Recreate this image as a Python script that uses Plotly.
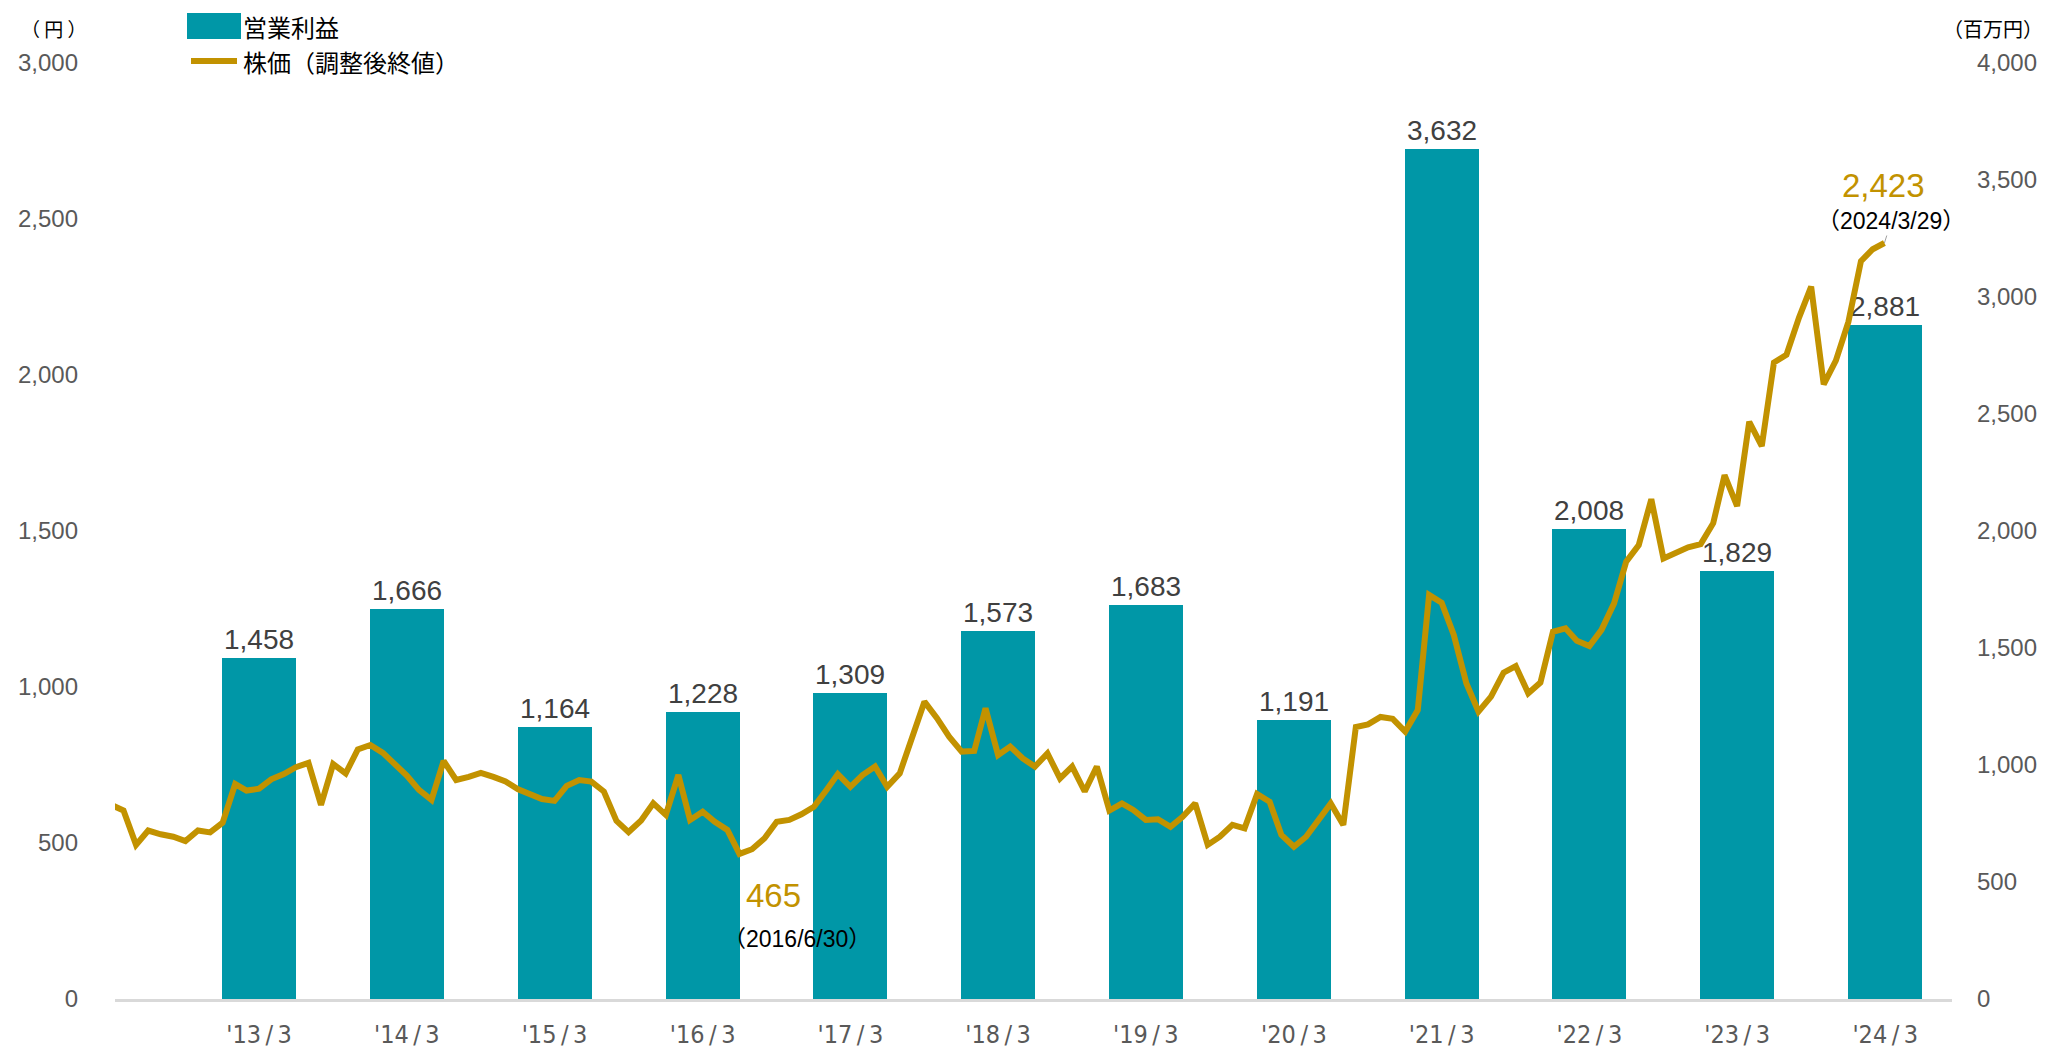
import calendar
import plotly.graph_objects as go

# ---------------- data ----------------
fiscal_labels = ["'13/3", "'14/3", "'15/3", "'16/3", "'17/3", "'18/3",
                 "'19/3", "'20/3", "'21/3", "'22/3", "'23/3", "'24/3"]
fiscal_dates = ["2013-03-31", "2014-03-31", "2015-03-31", "2016-03-31",
                "2017-03-31", "2018-03-31", "2019-03-31", "2020-03-31",
                "2021-03-31", "2022-03-31", "2023-03-31", "2024-03-31"]
operating_profit = [1458, 1666, 1164, 1228, 1309, 1573,
                    1683, 1191, 3632, 2008, 1829, 2881]   # 百万円

# monthly adjusted close (円), 2012/3 .. 2024/3
stock_price = [
    622, 604, 494, 540, 528, 520, 506, 540, 534, 565, 689, 668,
    674, 704, 721, 743, 757, 622, 753, 723, 800, 814, 789, 755,
    716, 670, 638, 763, 702, 712, 725, 712, 697, 672, 657, 641,
    635, 683, 702, 697, 665, 571, 535, 572, 627, 590, 718, 574,
    600, 568, 542, 465, 480, 515, 568, 574, 592, 616, 670, 721,
    680, 718, 745, 680, 723, 841, 953, 900, 841, 793, 795, 932,
    782, 809, 771, 745, 787, 707, 745, 665, 745, 604, 627, 606,
    574, 576, 552, 584, 627, 494, 520, 558, 547, 657, 632, 526,
    488, 520, 576, 627, 558, 872, 880, 904, 898, 857, 926, 1295,
    1270, 1167, 1012, 921, 969, 1046, 1067, 980, 1014, 1177, 1188, 1148,
    1131, 1183, 1268, 1402, 1455, 1602, 1412, 1429, 1448, 1458, 1525, 1679,
    1580, 1850, 1772, 2040, 2065, 2184, 2283, 1970, 2046, 2170, 2365, 2403,
    2423,
]
price_start_year, price_start_month = 2012, 3
last_price_date = "2024-03-29"
low_price_date = "2016-06-30"

# month-end dates for the price series
price_dates = []
yy, mm = price_start_year, price_start_month
for _ in stock_price:
    d = calendar.monthrange(yy, mm)[1]
    price_dates.append(f"{yy:04d}-{mm:02d}-{d:02d}")
    mm += 1
    if mm > 12:
        mm = 1
        yy += 1
price_dates[-1] = last_price_date

TEAL = "#0097A7"
GOLD = "#C29200"
NUM_FONT = "Liberation Sans, Arial, sans-serif"
JP_FONT = "Noto Sans CJK JP, sans-serif"
MIX_FONT = "Liberation Sans, Noto Sans CJK JP, sans-serif"
NARROW_FONT = "Liberation Sans Narrow, Arial Narrow, DejaVu Sans Condensed, sans-serif"

fig = go.Figure()

fig.add_trace(go.Bar(
    x=fiscal_dates, y=operating_profit, yaxis="y",
    name="営業利益",
    marker=dict(color=TEAL, line=dict(width=0)),
    width=182.9 * 86400000,
    text=[f"{v:,}" for v in operating_profit],
    textposition="outside",
    textfont=dict(family=NUM_FONT, size=28, color="#404040"),
    cliponaxis=False,
    showlegend=False,
))

fig.add_trace(go.Scatter(
    x=price_dates, y=stock_price, yaxis="y2",
    name="株価（調整後終値）",
    mode="lines",
    line=dict(color=GOLD, width=6),
    showlegend=False,
))

# geometry helpers (pixel -> paper)
L, R, T, B = 115, 96, 63, 51
W, H = 2048, 1050
PW, PH = W - L - R, H - T - B


def px(xp):
    return (xp - L) / PW


def py(yp):
    return (H - yp - B) / PH


low_idx = price_dates.index(low_price_date)
annotations = [
    dict(x=price_dates[-1], y=stock_price[-1], xref="x", yref="y2",
         text=f"{stock_price[-1]:,}", showarrow=False, yshift=58, xshift=-1,
         xanchor="center", yanchor="middle",
         font=dict(family=NUM_FONT, size=33, color=GOLD)),
    dict(x=price_dates[-1], y=stock_price[-1], xref="x", yref="y2",
         text="（2024/3/29）", showarrow=True, arrowhead=0, arrowwidth=1,
         arrowcolor="#A0A0A0", ax=7, ay=-22, standoff=0,
         font=dict(family=MIX_FONT, size=23, color="#000000")),
    dict(x=price_dates[low_idx], y=stock_price[low_idx], xref="x", yref="y2",
         text=f"{stock_price[low_idx]:,}", showarrow=False, xshift=34, yshift=-42,
         xanchor="center", yanchor="middle",
         font=dict(family=NUM_FONT, size=33, color=GOLD)),
    dict(x=price_dates[low_idx], y=stock_price[low_idx], xref="x", yref="y2",
         text="（2016/6/30）", showarrow=False, xshift=58, yshift=-85,
         xanchor="center", yanchor="middle",
         font=dict(family=MIX_FONT, size=23, color="#000000")),
    # axis unit titles
    dict(x=px(54), y=py(29), xref="paper", yref="paper", text="（ 円 ）",
         xanchor="center", yanchor="middle", showarrow=False,
         font=dict(family=JP_FONT, size=19, color="#000000")),
    dict(x=px(1993), y=py(29), xref="paper", yref="paper", text="（百万円）",
         xanchor="center", yanchor="middle", showarrow=False,
         font=dict(family=JP_FONT, size=20, color="#000000")),
    # legend texts
    dict(x=px(241), y=py(27), xref="paper", yref="paper", text="営業利益",
         xanchor="left", yanchor="middle", showarrow=False,
         font=dict(family=JP_FONT, size=24, color="#000000")),
    dict(x=px(241), y=py(61), xref="paper", yref="paper", text="株価（調整後終値）",
         xanchor="left", yanchor="middle", showarrow=False,
         font=dict(family=JP_FONT, size=24, color="#000000")),
]

shapes = [
    dict(type="rect", xref="paper", yref="paper",
         x0=px(187), x1=px(241), y0=py(39), y1=py(13),
         fillcolor=TEAL, line=dict(width=0)),
    dict(type="line", xref="paper", yref="paper",
         x0=px(191), x1=px(237), y0=py(61), y1=py(61),
         line=dict(color=GOLD, width=6)),
]

fig.update_layout(
    width=W, height=H,
    margin=dict(l=L, r=R, t=T, b=B, pad=0, autoexpand=False),
    paper_bgcolor="white", plot_bgcolor="white",
    bargap=0,
    showlegend=False,
    xaxis=dict(
        type="date",
        range=["2012-04-09", "2024-09-12"],
        tickmode="array", tickvals=fiscal_dates,
        ticktext=[s.replace("/", "\u2009/\u2009") for s in fiscal_labels],
        tickfont=dict(family=NARROW_FONT, size=25, color="#595959"),
        showgrid=False, zeroline=False,
        showline=True, linecolor="#D9D9D9", linewidth=3,
        ticks="", ticklabelstandoff=11, automargin=False,
    ),
    yaxis=dict(
        side="right", range=[0, 4000], tickmode="array",
        tickvals=[0, 500, 1000, 1500, 2000, 2500, 3000, 3500, 4000],
        tickformat=",", showgrid=False, zeroline=False, showline=False,
        ticks="", ticklabelstandoff=24, automargin=False,
        tickfont=dict(family=NUM_FONT, size=24, color="#595959"),
    ),
    yaxis2=dict(
        overlaying="y", side="left", range=[0, 3000], tickmode="array",
        tickvals=[0, 500, 1000, 1500, 2000, 2500, 3000],
        tickformat=",", showgrid=False, zeroline=False, showline=False,
        ticks="", ticklabelstandoff=36, automargin=False,
        tickfont=dict(family=NUM_FONT, size=24, color="#595959"),
    ),
    annotations=annotations,
    shapes=shapes,
)

fig.write_html("out.html",
               config={"displayModeBar": False},
               post_script="document.body.style.margin='0';document.body.style.overflow='hidden';")
